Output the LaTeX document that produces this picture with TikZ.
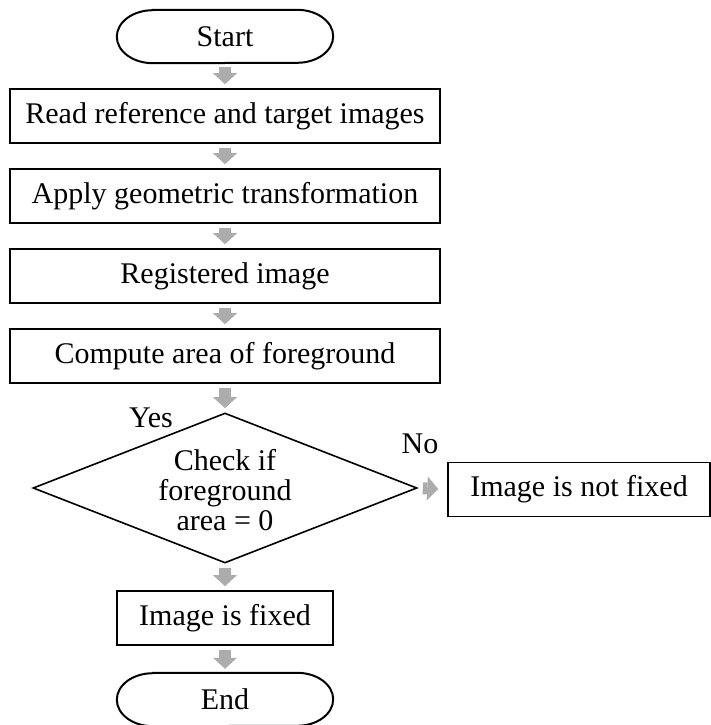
\documentclass[tikz,border=0pt]{standalone}
\usepackage{fontspec}
\setmainfont{Liberation Serif}
\usetikzlibrary{arrows.meta,shapes.geometric}

\tikzset{
    box/.style={draw, line width=1.6pt, minimum width=430pt, minimum height=54pt, inner sep=0pt},
    smallbox/.style={box, minimum width=216pt},
    terminal/.style={rectangle, minimum width=216pt, minimum height=53pt, inner sep=0pt},
    decision/.style={draw, diamond, line width=1.6pt, minimum width=384pt, minimum height=150pt, inner sep=0pt},
    flow/.style={draw=gray!65, line width=12pt, -{Triangle[length=11pt 0 0, width=24pt 0 0, line width=0pt]}, shorten <=4pt, shorten >=4pt},
}

\begin{document}
\begin{tikzpicture}[x=1pt, y=-1pt, font=\fontsize{30}{30}\selectfont]
        \useasboundingbox (0, 0) rectangle (711, 725);

        \node[terminal] (start) at (225, 36.5) {Start};
        \node[box] (read) at (225, 116) {Read reference and target images};
        \node[box] (apply) at (225, 196) {Apply geometric transformation};
        \node[box] (registered) at (225, 276) {Registered image};
        \node[box] (compute) at (225, 356) {Compute area of foreground};

        \node[decision] (check) at (225, 488) {};
        \node[align=center] (checktext) at (225, 490) {Check if\\foreground\\area = 0};
        \node (yes) at (151, 418) {Yes};
        \node (no) at (420, 444) {No};

        \node[box, minimum width=262pt] (notfixed) at (579, 489.5) {Image is not fixed};
        \node[smallbox] (fixed) at (225, 618) {Image is fixed};
        \node[terminal] (end) at (225, 699.5) {End};

        % oval ends of the terminals
        \foreach \t in {start, end}
            \draw[line width=2pt] ([xshift=36pt]\t.north west) -- ([xshift=-36pt]\t.north east)
                arc[start angle=90, end angle=-90, x radius=36pt, y radius=26.5pt]
                -- ([xshift=36pt]\t.south west)
                arc[start angle=270, end angle=90, x radius=36pt, y radius=26.5pt] -- cycle;

        \draw[flow] (start) -- (read);
        \draw[flow] (read) -- (apply);
        \draw[flow] (apply) -- (registered);
        \draw[flow] (registered) -- (compute);
        \draw[flow] (compute) -- (check.north);
        \draw[flow] (check.south) -- (fixed);
        \draw[flow] (fixed) -- (end);
        \draw[flow, shorten <=5pt, shorten >=9pt] (check.east) -- (notfixed.west);

    \end{tikzpicture}
\end{document}
